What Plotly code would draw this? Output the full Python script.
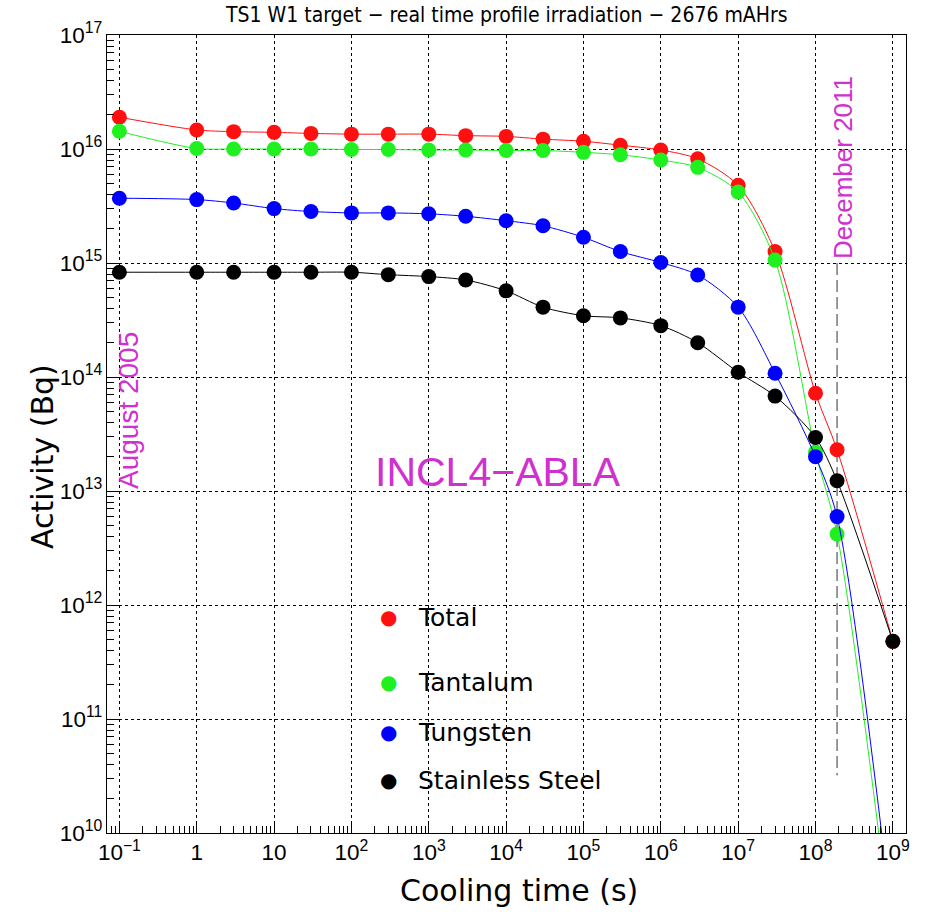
import plotly.graph_objects as go

# ---- data ----
cooling_time = [0.1, 1, 3, 10, 30, 100, 300, 1e3, 3e3, 1e4, 3e4, 1e5, 3e5,
                1e6, 3e6, 1e7, 3e7, 1e8, 1.9e8, 1e9]
total = [1.9e16, 1.47e16, 1.42e16, 1.40e16, 1.37e16, 1.35e16, 1.35e16, 1.35e16,
         1.31e16, 1.29e16, 1.22e16, 1.17e16, 1.08e16, 9.8e15, 8.2e15, 4.8e15,
         1.26e15, 7.2e13, 2.3e13, 4.8e11]
tantalum = [1.43e16, 1.01e16, 1.0e16, 1.0e16, 1.0e16, 0.99e16, 0.99e16, 0.98e16,
            0.98e16, 9.7e15, 9.7e15, 9.35e15, 8.9e15, 8.0e15, 6.9e15, 4.2e15,
            1.06e15, 2.2e13, 4.2e12, 1.0e9]
tungsten = [3.7e15, 3.6e15, 3.36e15, 3.0e15, 2.83e15, 2.75e15, 2.75e15, 2.7e15,
            2.57e15, 2.35e15, 2.12e15, 1.68e15, 1.26e15, 1.01e15, 7.85e14, 4.1e14,
            1.08e14, 2.0e13, 5.96e12, 1.5e9]
steel = [8.3e14, 8.3e14, 8.3e14, 8.3e14, 8.3e14, 8.3e14, 7.9e14, 7.6e14,
         7.1e14, 5.7e14, 4.1e14, 3.45e14, 3.3e14, 2.82e14, 2.0e14, 1.1e14,
         6.8e13, 2.95e13, 1.23e13, 4.8e11]
series_names = ["Total", "Tantalum", "Tungsten", "Stainless Steel"]
series_colors = ["#ff1010", "#20f020", "#0000ff", "#000000"]
december_line_x = [1.9e8, 1.9e8]
december_line_y = [1e15, 3.2e10]

MAG = "#d030d0"
L, R, T, B = 107, 22, 35, 85
W, H = 928, 918
PW, PH = W - L - R, H - T - B


def px(x):
    return (x - L) / PW


def py(y):
    return (H - B - y) / PH


fig = go.Figure()

# December 2011 dashed marker line
fig.add_trace(go.Scatter(x=december_line_x, y=december_line_y, mode="lines",
                         line=dict(color="#333333", width=1, dash="12px,5px"),
                         showlegend=False, hoverinfo="skip"))

for name, vals, col in zip(series_names, [total, tantalum, tungsten, steel], series_colors):
    fig.add_trace(go.Scatter(x=cooling_time, y=vals, mode="lines+markers", name=name,
                             line=dict(color=col, width=1, shape="spline", smoothing=0.8),
                             marker=dict(color=col, size=15, line=dict(width=0)),
                             showlegend=False))

axis_common = dict(type="log", showline=True, linecolor="black", linewidth=1, mirror=True,
                   showgrid=True, gridcolor="black", gridwidth=1, griddash="dot",
                   ticks="inside", ticklen=12, tickcolor="black", tickwidth=1,
                   dtick=1, exponentformat="power", zeroline=False,
                   tickfont=dict(family="Liberation Sans, Arial, sans-serif", size=18, color="black"),
                   minor=dict(ticks="inside", ticklen=7, tickcolor="black", showgrid=False))

fig.update_xaxes(range=[-1.16, 9.17], **axis_common)
fig.update_yaxes(range=[10, 17], **axis_common)

annotations = []
# title
annotations.append(dict(text="TS1 W1 target − real time profile irradiation − 2676 mAHrs",
                        x=px(506), y=py(15), xref="paper", yref="paper", showarrow=False,
                        xanchor="center", yanchor="middle",
                        font=dict(family="Liberation Sans Narrow, DejaVu Sans Condensed, Arial Narrow, sans-serif",
                                  size=21, color="black")))
# axis titles
annotations.append(dict(text="Cooling time (s)", x=px(519), y=py(890), xref="paper", yref="paper",
                        showarrow=False, xanchor="center", yanchor="middle",
                        font=dict(family="DejaVu Sans, sans-serif", size=30, color="black")))
annotations.append(dict(text="Activity (Bq)", x=px(42), y=py(457), xref="paper", yref="paper",
                        showarrow=False, xanchor="center", yanchor="middle", textangle=-90,
                        font=dict(family="DejaVu Sans, sans-serif", size=30, color="black")))
# magenta labels
annotations.append(dict(text="August 2005", x=px(128), y=py(411), xref="paper", yref="paper",
                        showarrow=False, xanchor="center", yanchor="middle", textangle=-90,
                        font=dict(family="Liberation Sans, Arial, sans-serif", size=28, color=MAG)))
annotations.append(dict(text="December 2011", x=px(843), y=py(168), xref="paper", yref="paper",
                        showarrow=False, xanchor="center", yanchor="middle", textangle=-90,
                        font=dict(family="Liberation Sans, Arial, sans-serif", size=26, color=MAG)))
annotations.append(dict(text="INCL4−ABLA", x=px(498), y=py(472), xref="paper", yref="paper",
                        showarrow=False, xanchor="center", yanchor="middle",
                        font=dict(family="Liberation Sans, Arial, sans-serif", size=41, color=MAG)))
# legend (manual)
legend_y = [617, 682, 732, 780]
for name, col, ly in zip(series_names, series_colors, legend_y):
    annotations.append(dict(text="●", x=px(388), y=py(ly), xref="paper", yref="paper",
                            showarrow=False, xanchor="center", yanchor="middle",
                            font=dict(family="DejaVu Sans, sans-serif", size=20, color=col)))
    annotations.append(dict(text=name, x=px(416), y=py(ly), xref="paper", yref="paper",
                            showarrow=False, xanchor="left", yanchor="middle",
                            font=dict(family="DejaVu Sans, sans-serif", size=25, color="black")))

fig.update_layout(width=W, height=H, margin=dict(l=L, r=R, t=T, b=B, pad=0),
                  paper_bgcolor="white", plot_bgcolor="white", showlegend=False,
                  annotations=annotations)

fig.write_html("out.html", config={"displayModeBar": False},
               post_script="document.body.style.margin='0px';")
